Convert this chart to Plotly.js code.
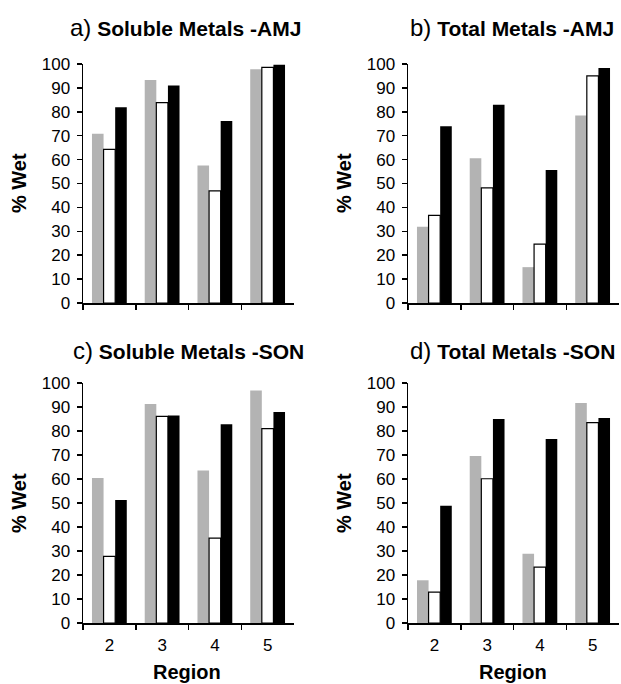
<!DOCTYPE html>
<html>
<head>
<meta charset="utf-8">
<script src="https://cdn.plot.ly/plotly-3.0.1.min.js"></script>
<style>html,body{margin:0;padding:0;background:#fff;}#chart{width:621px;height:684px;}</style>
</head>
<body>
<div id="chart"></div>
<script>
// Categories (regions)
var regions = ['2', '3', '4', '5'];

// Panel a) Soluble Metals -AMJ
var aGray  = [70.8, 93.3, 57.5, 97.8];
var aWhite = [64.3, 83.8, 46.9, 98.6];
var aBlack = [81.9, 91.0, 76.2, 99.7];

// Panel b) Total Metals -AMJ
var bGray  = [31.9, 60.6, 15.0, 78.5];
var bWhite = [36.7, 48.2, 24.6, 95.0];
var bBlack = [74.0, 82.9, 55.6, 98.3];

// Panel c) Soluble Metals -SON
var cGray  = [60.4, 91.2, 63.5, 96.9];
var cWhite = [27.8, 86.1, 35.4, 81.0];
var cBlack = [51.2, 86.5, 82.8, 87.9];

// Panel d) Total Metals -SON
var dGray  = [17.8, 69.6, 28.9, 91.7];
var dWhite = [12.9, 60.1, 23.3, 83.5];
var dBlack = [48.9, 85.0, 76.7, 85.4];

var panelLetters = ['a)', 'b)', 'c)', 'd)'];
var panelTitles = ['Soluble Metals -AMJ', 'Total Metals -AMJ', 'Soluble Metals -SON', 'Total Metals -SON'];
var yTitle = '% Wet';
var xTitle = 'Region';
var yTickVals = [0, 10, 20, 30, 40, 50, 60, 70, 80, 90, 100];

var W = 621, H = 684;
var FONT = 'Liberation Sans, Arial, sans-serif';

var panels = [
  {g: aGray, w: aWhite, b: aBlack, xa: 'x',  ya: 'y'},
  {g: bGray, w: bWhite, b: bBlack, xa: 'x2', ya: 'y2'},
  {g: cGray, w: cWhite, b: cBlack, xa: 'x3', ya: 'y3'},
  {g: dGray, w: dWhite, b: dBlack, xa: 'x4', ya: 'y4'}
];

var traces = [];
panels.forEach(function (p) {
  traces.push({type: 'bar', x: regions, y: p.g, xaxis: p.xa, yaxis: p.ya,
    marker: {color: '#b3b3b3', line: {width: 0}}, showlegend: false, hoverinfo: 'y'});
  traces.push({type: 'bar', x: regions, y: p.w, xaxis: p.xa, yaxis: p.ya,
    marker: {color: '#ffffff', line: {width: 1.2, color: '#000000'}}, showlegend: false, hoverinfo: 'y'});
  traces.push({type: 'bar', x: regions, y: p.b, xaxis: p.xa, yaxis: p.ya,
    marker: {color: '#000000', line: {width: 0}}, showlegend: false, hoverinfo: 'y'});
});

// pixel boxes [left, right, top, bottom]
var boxes = [
  [83, 294, 64, 303],
  [408, 619, 64, 303],
  [83, 294, 383, 623],
  [408, 619, 383, 623]
];

function xAxis(i, showLabels) {
  var bx = boxes[i];
  return {
    domain: [bx[0] / W, bx[1] / W],
    anchor: i === 0 ? 'y' : 'y' + (i + 1),
    type: 'category',
    showline: true, linecolor: '#000', linewidth: 1.5,
    ticks: 'outside', ticklen: 5, tickwidth: 1.5, tickcolor: '#000',
    tickson: 'boundaries',
    showgrid: false, zeroline: false,
    showticklabels: showLabels,
    tickfont: {family: FONT, size: 17, color: '#000'},
    ticklabelstandoff: 6,
    fixedrange: true
  };
}
function yAxis(i) {
  var bx = boxes[i];
  return {
    domain: [(H - bx[3]) / H, (H - bx[2]) / H],
    anchor: i === 0 ? 'x' : 'x' + (i + 1),
    range: [0, 100],
    tickvals: yTickVals,
    showline: true, linecolor: '#000', linewidth: 1.5,
    ticks: 'outside', ticklen: 5, tickwidth: 1.5, tickcolor: '#000',
    showgrid: false, zeroline: false,
    tickfont: {family: FONT, size: 17, color: '#000'},
    ticklabelstandoff: 3,
    fixedrange: true
  };
}

var annotations = [];
var titleCenters = [[185, 27], [512, 27], [188, 350], [512, 350]];
var yTitleCenters = [[19, 183], [344, 183], [19, 503], [344, 503]];
var xTitleCenters = [[187, 672], [513, 672]];

for (var i = 0; i < 4; i++) {
  annotations.push({
    xref: 'paper', yref: 'paper',
    x: titleCenters[i][0] / W, y: 1 - titleCenters[i][1] / H,
    xanchor: 'center', yanchor: 'middle', showarrow: false,
    text: '<span style="font-size:24px;font-weight:normal">' + panelLetters[i] + '</span> <b>' + panelTitles[i] + '</b>',
    font: {family: FONT, size: 21, color: '#000'}
  });
  annotations.push({
    xref: 'paper', yref: 'paper',
    x: yTitleCenters[i][0] / W, y: 1 - yTitleCenters[i][1] / H,
    xanchor: 'center', yanchor: 'middle', showarrow: false, textangle: -90,
    text: '<b>' + yTitle + '</b>',
    font: {family: FONT, size: 20, color: '#000'}
  });
}
for (var j = 0; j < 2; j++) {
  annotations.push({
    xref: 'paper', yref: 'paper',
    x: xTitleCenters[j][0] / W, y: 1 - xTitleCenters[j][1] / H,
    xanchor: 'center', yanchor: 'middle', showarrow: false,
    text: '<b>' + xTitle + '</b>',
    font: {family: FONT, size: 20, color: '#000'}
  });
}

var layout = {
  width: W, height: H,
  margin: {l: 0, r: 0, t: 0, b: 0},
  paper_bgcolor: '#fff', plot_bgcolor: '#fff',
  barmode: 'group', bargap: 0.34, bargroupgap: 0,
  font: {family: FONT, color: '#000'},
  xaxis: xAxis(0, false), yaxis: yAxis(0),
  xaxis2: xAxis(1, false), yaxis2: yAxis(1),
  xaxis3: xAxis(2, true), yaxis3: yAxis(2),
  xaxis4: xAxis(3, true), yaxis4: yAxis(3),
  annotations: annotations
};

Plotly.newPlot('chart', traces, layout, {displayModeBar: false, staticPlot: true});
</script>
</body>
</html>
